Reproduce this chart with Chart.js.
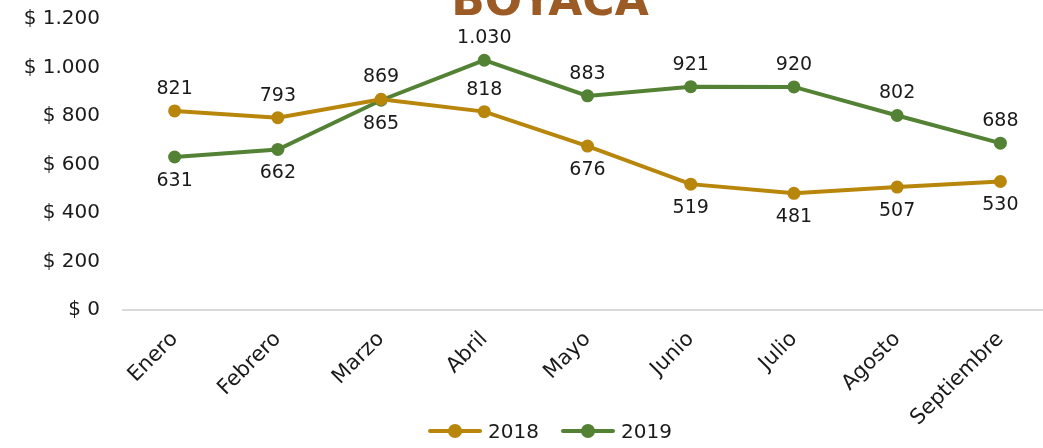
<!DOCTYPE html>
<html lang="es">
<head>
<meta charset="UTF-8">
<title>Boyacá 2018 - 2019</title>
<script src="https://cdn.jsdelivr.net/npm/chart.js"></script>
<style>
    body { margin: 0; background: #fff; overflow: hidden; width: 1043px; height: 448px; position: relative; font-family: "DejaVu Sans", sans-serif; }
    #wrap { position: absolute; left: 0; top: 0; width: 1100px; height: 448px; }
    #leyenda { position: absolute; left: 0; top: 419px; width: 1100px; text-align: center; font-size: 20px; color: #1a1a1a; }
    .item { display: inline-flex; align-items: center; margin: 0 11px; }
    .icono { position: relative; width: 54px; height: 16px; margin-right: 6px; }
    .icono::before { content: ''; position: absolute; left: 0; right: 0; top: 6px; height: 4px; border-radius: 2px; background: var(--c); }
    .icono::after { content: ''; position: absolute; left: 20px; top: 1px; width: 14px; height: 14px; border-radius: 50%; background: var(--c); }
</style>
</head>
<body>
<div id="wrap"><canvas id="chart"></canvas></div>
<div id="leyenda"></div>
<script>
    const meses = ['Enero','Febrero','Marzo','Abril','Mayo','Junio','Julio','Agosto','Septiembre'];
    const valores2018 = [821, 793, 869, 818, 676, 519, 481, 507, 530];
    const valores2019 = [631, 662, 865, 1030, 883, 921, 920, 802, 688];
    const yTicks = [0, 200, 400, 600, 800, 1000, 1200];
    const titulo = 'BOYACÁ';

    // arriba / abajo de cada etiqueta
    const pos2018 = ['a','a','a','a','b','b','b','b','b'];
    const pos2019 = ['b','b','b','a','a','a','a','a','a'];

    const FONT = '"DejaVu Sans", sans-serif';
    const miles = v => String(v).replace(/\B(?=(\d{3})+(?!\d))/g, '.');

    // titulo cortado arriba, como en la lamina
    const tituloPlugin = {
        id: 'tituloPlugin',
        afterDraw(chart) {
            const ctx = chart.ctx;
            ctx.save();
            ctx.font = 'bold 44px "DejaVu Sans", sans-serif';
            ctx.fillStyle = '#9C5A24';
            ctx.textAlign = 'center';
            ctx.textBaseline = 'alphabetic';
            ctx.fillText(titulo, chart.width / 2, 15);
            ctx.restore();
        }
    };

    const etiquetas = {
        id: 'etiquetas',
        afterDatasetsDraw(chart) {
            const ctx = chart.ctx;
            ctx.save();
            ctx.font = '19px ' + FONT;
            ctx.fillStyle = '#1a1a1a';
            ctx.textAlign = 'center';
            ctx.textBaseline = 'middle';
            chart.data.datasets.forEach((ds, i) => {
                const meta = chart.getDatasetMeta(i);
                meta.data.forEach((pt, j) => {
                    const dy = ds.posEtiqueta[j] === 'a' ? -22 : 24;
                    ctx.fillText(miles(ds.data[j]), pt.x, pt.y + dy);
                });
            });
            ctx.restore();
        }
    };

    const chart = new Chart(document.getElementById('chart'), {
        type: 'line',
        data: {
            labels: meses,
            datasets: [
                {
                    label: '2018',
                    data: valores2018,
                    posEtiqueta: pos2018,
                    borderColor: '#B8860B',
                    backgroundColor: '#B8860B',
                    borderWidth: 4,
                    pointRadius: 6.5,
                    pointBorderWidth: 0,
                    tension: 0
                },
                {
                    label: '2019',
                    data: valores2019,
                    posEtiqueta: pos2019,
                    borderColor: '#548235',
                    backgroundColor: '#548235',
                    borderWidth: 4,
                    pointRadius: 6.5,
                    pointBorderWidth: 0,
                    tension: 0
                }
            ]
        },
        options: {
            responsive: true,
            maintainAspectRatio: false,
            animation: false,
            layout: { padding: { left: 0, right: 0, top: 19, bottom: 0 } },
            scales: {
                x: {
                    offset: true,
                    grid: { display: false, drawTicks: false },
                    border: { display: true, color: '#d9d9d9', width: 2 },
                    ticks: {
                        minRotation: 45, maxRotation: 45, padding: 17,
                        color: '#1a1a1a', font: { family: FONT, size: 21 }
                    },
                    afterFit: s => { s.height = 138; }
                },
                y: {
                    min: 0, max: 1200,
                    grid: { display: false, drawTicks: false },
                    border: { display: false },
                    afterBuildTicks: s => { s.ticks = yTicks.map(v => ({ value: v })); },
                    ticks: {
                        padding: 23, color: '#1a1a1a',
                        font: { family: FONT, size: 20 },
                        callback: v => '$ ' + miles(v)
                    },
                    afterFit: s => { s.width = 123; s.paddingTop = 0; s.paddingBottom = 0; }
                },
                // eje vacio a la derecha: solo deja el margen de la lamina
                margen: {
                    position: 'right',
                    display: true,
                    grid: { display: false, drawTicks: false },
                    border: { display: false },
                    ticks: { display: false },
                    afterFit: s => { s.width = 48; }
                }
            },
            plugins: {
                title: { display: false },
                legend: { display: false },
                tooltip: { enabled: false }
            }
        },
        plugins: [etiquetas, tituloPlugin]
    });

    // leyenda abajo (html), a partir de las series
    const leyenda = document.getElementById('leyenda');
    chart.data.datasets.forEach(ds => {
        const item = document.createElement('span');
        item.className = 'item';
        item.innerHTML = `<span class="icono" style="--c:${ds.borderColor}"></span>${ds.label}`;
        leyenda.appendChild(item);
    });
</script>
</body>
</html>
